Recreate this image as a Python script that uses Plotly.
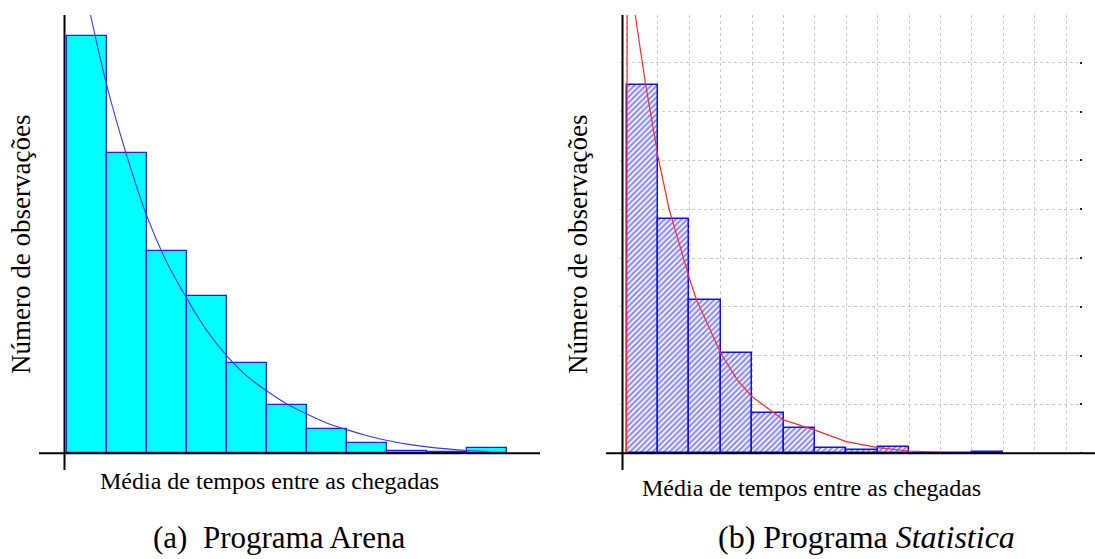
import plotly.graph_objects as go

W, H = 1095, 559

# ---------------- data ----------------
# (a) Arena: histogram counts per bin (bin width = 1 unit) and fitted curve
arena_bin_left = [0, 1, 2, 3, 4, 5, 6, 7, 8, 9, 10]
arena_counts = [208.8, 150.2, 101.3, 78.7, 45.2, 24.2, 12.2, 5.4, 1.2, 0.8, 2.5]
arena_fit_x = [0.55, 1.0, 1.5, 2.0, 2.5, 3.0, 3.5, 4.0, 4.5, 5.0, 5.5, 6.0,
               6.5, 7.0, 7.5, 8.0, 8.5, 9.0, 9.5, 10.0, 10.55]
arena_fit_y = [222, 183, 148, 118, 95, 77, 61, 48.5, 38.5, 31, 24.5, 19.5,
               15, 11.7, 8.8, 6.4, 4.6, 3.2, 2.2, 1.4, 0.8]

# (b) Statistica: histogram counts per bin and fitted curve
stat_bin_left = [0, 1, 2, 3, 4, 5, 6, 7, 8, 9, 10, 11]
stat_counts = [151, 96, 63, 41.2, 16.6, 10.4, 2.2, 1.2, 2.6, 0, 0, 0.7]
stat_fit_x = [0, 0, 0.02, 0.02, 0.27, 0.6, 0.8, 1.0, 1.36, 2.0, 2.23, 3.0,
              3.53, 4.0, 5.0, 6.0, 7.0, 8.0, 9.0, 10.05]
stat_fit_y = [0, 155, 161, 200, 180, 151.6, 136.6, 121.6, 99.7, 71.7, 62.8, 41,
              30, 23.2, 13.7, 9.5, 4.8, 2.3, 0.95, 0.4]

y_title = "Número de observações"
x_title = "Média de tempos entre as chegadas"
cap_a = "(a)  Programa Arena"
cap_b = "(b) Programa <i>Statistica</i>"

# ---------------- layout geometry (pixels) ----------------
def px_x(p):
    return p / W

def px_y(p):
    return 1 - p / H

FONT = "Liberation Serif, Times New Roman, serif"

fig = go.Figure()

# Left histogram
fig.add_trace(go.Bar(
    x=[b + 0.5 for b in arena_bin_left], y=arena_counts, width=1,
    marker=dict(color="#00ffff", line=dict(color="#1f1fff", width=1.3)),
    xaxis="x", yaxis="y", hoverinfo="skip"))
fig.add_trace(go.Scatter(
    x=arena_fit_x, y=arena_fit_y, mode="lines", line_shape="spline",
    line=dict(color="#3a3aff", width=1.1),
    xaxis="x", yaxis="y", hoverinfo="skip"))

# Right histogram (hatched)
fig.add_trace(go.Bar(
    x=[b + 0.5 for b in stat_bin_left], y=stat_counts, width=1,
    marker=dict(color="white",
                pattern=dict(shape="/", fgcolor="#1a1aff", bgcolor="white",
                             size=4, solidity=0.55),
                line=dict(color="#1010ff", width=1.5)),
    xaxis="x2", yaxis="y2", hoverinfo="skip"))
fig.add_trace(go.Scatter(
    x=stat_fit_x, y=stat_fit_y, mode="lines",
    line=dict(color="#ff2a2a", width=1.2),
    xaxis="x2", yaxis="y2", hoverinfo="skip"))

fig.update_layout(
    width=W, height=H,
    margin=dict(l=0, r=0, t=0, b=0),
    paper_bgcolor="white", plot_bgcolor="white",
    showlegend=False, bargap=0,
    xaxis=dict(domain=[px_x(39), px_x(540)], range=[-0.7075, 11.8175],
               visible=False, fixedrange=True),
    yaxis=dict(domain=[px_y(470), px_y(15)], range=[-8.35, 219.15],
               visible=False, fixedrange=True),
    xaxis2=dict(domain=[px_x(620), px_x(1079)], range=[-0.21, 14.41],
                anchor="y2", showgrid=True, gridcolor="#c9c9c9", griddash="dot",
                gridwidth=1, tick0=0, dtick=1, showticklabels=False, ticks="",
                zeroline=False, showline=False),
    yaxis2=dict(domain=[px_y(453.3), px_y(15)], range=[0, 179.6],
                anchor="x2", side="right", showgrid=True, gridcolor="#c9c9c9",
                griddash="dot", gridwidth=1, tick0=0, dtick=20,
                showticklabels=False, ticks="outside", ticklen=2, tickwidth=2,
                tickcolor="#222", zeroline=False, showline=False),
)

# Axis lines (cross style)
shapes = [
    dict(type="line", xref="x", yref="y domain", x0=-0.07, x1=-0.07, y0=0, y1=1,
         line=dict(color="black", width=2)),
    dict(type="line", xref="x domain", yref="y", x0=0, x1=1, y0=0, y1=0,
         line=dict(color="black", width=2)),
    dict(type="line", xref="x2", yref="paper", x0=-0.13, x1=-0.13,
         y0=px_y(470), y1=px_y(15), line=dict(color="black", width=2)),
    dict(type="line", xref="paper", yref="paper", x0=px_x(606), x1=1,
         y0=px_y(453.3), y1=px_y(453.3), line=dict(color="black", width=2)),
]
fig.update_layout(shapes=shapes)

ytitle_font = dict(family=FONT, size=27, color="black")
xtitle_font = dict(family=FONT, size=24, color="black")
cap_font_a = dict(family=FONT, size=31, color="black")
cap_font_b = dict(family=FONT, size=32, color="black")
annotations = [
    dict(text=y_title, x=px_x(21), y=px_y(245), textangle=-90, font=ytitle_font),
    dict(text=y_title, x=px_x(578), y=px_y(245), textangle=-90, font=ytitle_font),
    dict(text=x_title, x=px_x(269), y=px_y(481), font=xtitle_font),
    dict(text=x_title, x=px_x(811), y=px_y(488), font=xtitle_font),
    dict(text=cap_a, x=px_x(279), y=px_y(537), font=cap_font_a),
    dict(text=cap_b, x=px_x(866), y=px_y(537), font=cap_font_b),
]
for a in annotations:
    a.update(xref="paper", yref="paper", showarrow=False,
             xanchor="center", yanchor="middle")
fig.update_layout(annotations=annotations)

fig.write_html("out.html")
